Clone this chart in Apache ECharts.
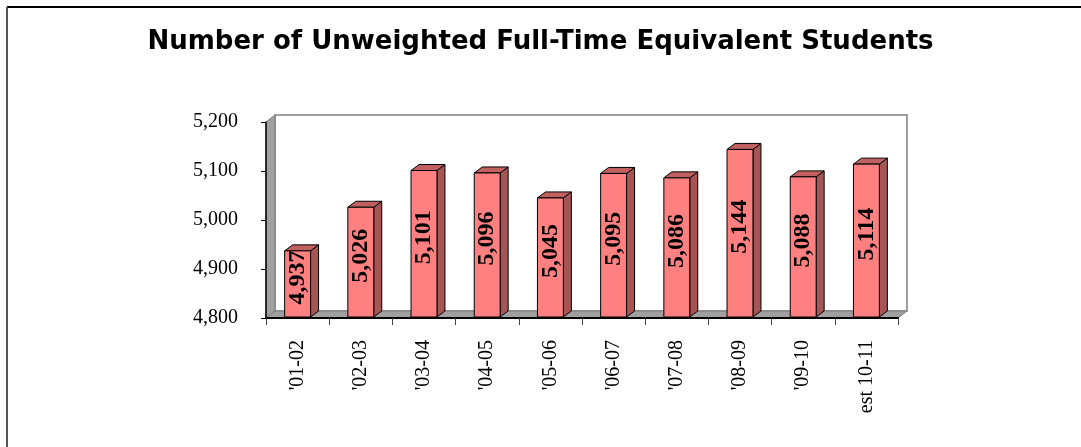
<!DOCTYPE html>
<html>
<head>
<meta charset="utf-8">
<script src="https://cdn.jsdelivr.net/npm/echarts@6/dist/echarts.min.js"></script>
<style>
  html, body { margin: 0; padding: 0; background: #fff; }
  #chart { width: 1081px; height: 447px; }
</style>
</head>
<body>
<div id="chart"></div>
<script>
const titleText = 'Number of Unweighted Full-Time Equivalent Students';
const categories = ["'01-02", "'02-03", "'03-04", "'04-05", "'05-06", "'06-07", "'07-08", "'08-09", "'09-10", "est 10-11"];
const students = [4937, 5026, 5101, 5096, 5045, 5095, 5086, 5144, 5088, 5114];
const yMin = 4800, yMax = 5200, yStep = 100;

const DEPTH_X = 9, DEPTH_Y = 7;     // wall depth
const BAR_DX = 8, BAR_DY = 6;       // bar depth
const fmt = v => v.toLocaleString('en-US');

const chart = echarts.init(document.getElementById('chart'), null, { renderer: 'canvas' });

function renderWalls(params, api) {
  const cs = params.coordSys;
  const x0 = cs.x, y0 = cs.y, x1 = cs.x + cs.width, y1 = cs.y + cs.height;
  const grey = '#a0a0a0';
  return {
    type: 'group',
    children: [
      { type: 'rect', shape: { x: x0 + DEPTH_X, y: y0 - DEPTH_Y, width: cs.width, height: cs.height },
        style: { fill: '#fff', stroke: grey, lineWidth: 2 } },
      { type: 'polygon', shape: { points: [[x0, y0], [x0 + DEPTH_X, y0 - DEPTH_Y], [x0 + DEPTH_X, y1 - DEPTH_Y], [x0, y1]] },
        style: { fill: grey, stroke: '#7a7a7a', lineWidth: 1 } },
      { type: 'polygon', shape: { points: [[x0, y1], [x0 + DEPTH_X, y1 - DEPTH_Y], [x1 + DEPTH_X, y1 - DEPTH_Y], [x1, y1]] },
        style: { fill: grey, stroke: '#7a7a7a', lineWidth: 1 } }
    ]
  };
}

function renderBar(params, api) {
  const i = api.value(0), v = api.value(1);
  const top = api.coord([i, v]);
  const base = api.coord([i, yMin]);
  const band = api.size([1, 0])[0];
  const w = band * 0.41;
  const l = top[0] - w / 2, r = top[0] + w / 2;
  const yt = top[1], yb = base[1] - 1;
  return {
    type: 'group',
    children: [
      { type: 'polygon', shape: { points: [[r, yt], [r + BAR_DX, yt - BAR_DY], [r + BAR_DX, yb - BAR_DY], [r, yb]] },
        style: { fill: '#a65555', stroke: '#000', lineWidth: 1 } },
      { type: 'polygon', shape: { points: [[l, yt], [l + BAR_DX, yt - BAR_DY], [r + BAR_DX, yt - BAR_DY], [r, yt]] },
        style: { fill: '#c06060', stroke: '#000', lineWidth: 1 } },
      { type: 'rect', shape: { x: l, y: yt, width: w, height: yb - yt },
        style: { fill: '#ff8080', stroke: '#000', lineWidth: 1 } }
    ]
  };
}

chart.setOption({
  animation: false,
  backgroundColor: '#fff',
  title: {
    text: titleText, left: 'center', top: 24,
    textStyle: { fontFamily: 'DejaVu Sans', fontWeight: 'bold', fontSize: 26, color: '#000' }
  },
  graphic: [
    { type: 'line', shape: { x1: 7, y1: 7, x2: 1081, y2: 7 }, style: { stroke: '#000', lineWidth: 2 } },
    { type: 'line', shape: { x1: 7, y1: 7, x2: 7, y2: 447 }, style: { stroke: '#555', lineWidth: 2 } }
  ],
  grid: { left: 266, top: 122, width: 632, height: 196 },
  xAxis: {
    type: 'category', data: categories, boundaryGap: true,
    axisLine: { lineStyle: { color: '#000', width: 2 } },
    axisTick: { show: true, length: 7, lineStyle: { color: '#444' } },
    axisLabel: { rotate: 90, margin: 22, color: '#000', fontFamily: 'Liberation Serif', fontSize: 20 },
    z: 10
  },
  yAxis: {
    type: 'value', min: yMin, max: yMax, interval: yStep,
    axisLine: { show: true, lineStyle: { color: '#000', width: 1.5 } },
    axisTick: { show: true, length: 5, lineStyle: { color: '#000' } },
    splitLine: { show: false },
    axisLabel: { margin: 28, color: '#000', fontFamily: 'Liberation Serif', fontSize: 20, formatter: v => fmt(v) },
    z: 10
  },
  series: [
    { type: 'custom', name: 'walls', data: [[0, yMin]], renderItem: renderWalls, z: 1, silent: true, clip: false },
    { type: 'custom', name: 'FTE', data: students.map((v, i) => [i, v]), renderItem: renderBar, z: 2, clip: false },
    { type: 'bar', name: 'FTE labels', data: students, barWidth: '41%', z: 3, silent: true,
      itemStyle: { color: 'rgba(0,0,0,0)' },
      label: { show: true, position: 'inside', rotate: 90, offset: [7, 0],
               formatter: p => fmt(p.value), color: '#000',
               fontFamily: 'Liberation Serif', fontWeight: 'bold', fontSize: 24,
               textBorderWidth: 0 } }
  ]
});
</script>
</body>
</html>
